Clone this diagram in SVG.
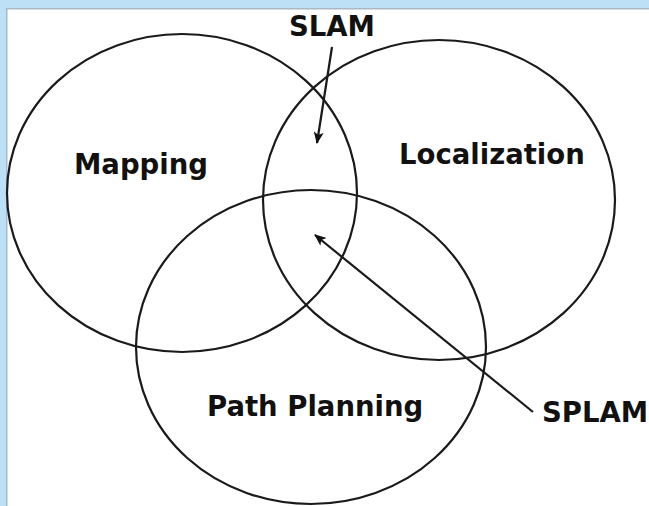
<svg xmlns="http://www.w3.org/2000/svg" width="649" height="506" viewBox="0 0 649 506">
<style>
.c{fill:none;stroke:#1a1a1a;stroke-width:2.2}
.l{fill:none;stroke:#1a1a1a;stroke-width:2.2}
.t{font-family:"DejaVu Sans",sans-serif;font-weight:bold;font-size:27.5px;fill:#111}
</style>
<defs>
<marker id="ah" viewBox="0 0 12 10" refX="11" refY="5" markerWidth="12" markerHeight="10" markerUnits="userSpaceOnUse" orient="auto">
<path d="M0,0 L12,5 L0,10 L3,5 Z" fill="#111"/>
</marker>
</defs>
<rect x="0" y="0" width="649" height="506" fill="#bde0f6"/>
<rect x="6" y="8" width="643" height="498" fill="#a9b8c2"/>
<rect x="7.5" y="9.5" width="641.5" height="496.5" fill="#ffffff"/>
<g id="mapping"><ellipse class="c" cx="182" cy="193" rx="175" ry="159"/><text class="t" x="74" y="174">Mapping</text></g>
<g id="localization"><ellipse class="c" cx="439" cy="200" rx="176" ry="160"/><text class="t" x="399" y="164">Localization</text></g>
<g id="path-planning"><ellipse class="c" cx="311" cy="347" rx="175" ry="157"/><text class="t" x="207" y="416">Path Planning</text></g>
<g id="slam"><text class="t" x="289" y="36">SLAM</text></g>
<g id="splam"><text class="t" x="542" y="422">SPLAM</text></g>
<g id="connectors">
<line class="l" x1="332" y1="47" x2="317" y2="143" marker-end="url(#ah)"/>
<line class="l" x1="533" y1="412" x2="315" y2="235" marker-end="url(#ah)"/>
</g>
</svg>
